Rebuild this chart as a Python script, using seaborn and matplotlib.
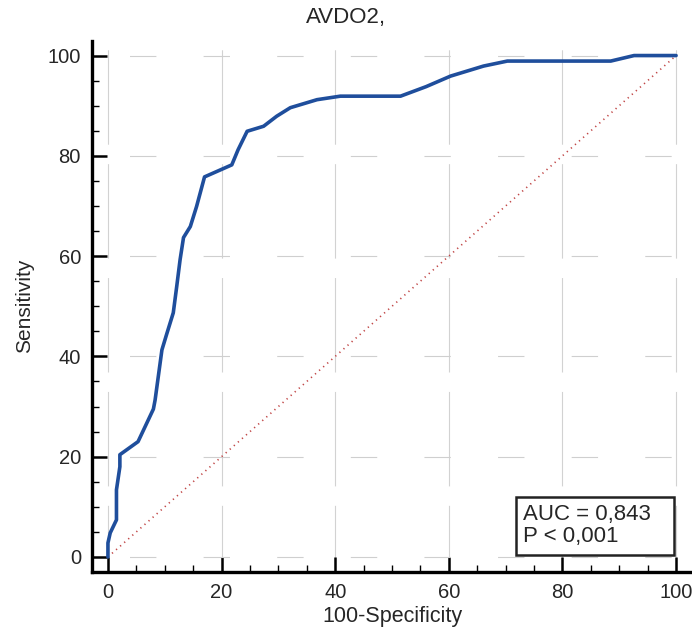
import matplotlib
matplotlib.use("Agg")
import matplotlib.pyplot as plt
import seaborn as sns
import pandas as pd
from matplotlib.ticker import MultipleLocator
from matplotlib.patches import Rectangle

# ROC curve values
fpr = [0, 0, 0.4, 1.5, 1.5, 2.1, 2.1, 5.3, 8.0, 8.3, 9.5, 10.3, 11.5, 12.1, 12.7,
       13.3, 14.5, 15.6, 17.0, 19.8, 21.8, 22.9, 24.5, 27.4, 29.7, 32.1, 36.8,
       40.9, 51.5, 56.0, 60.3, 66.1, 70.3, 88.5, 92.6, 100]
tpr = [0, 2.8, 4.8, 7.4, 13.4, 18.0, 20.4, 23.0, 29.5, 31.3, 41.3, 44.3, 48.7, 53.9, 59.3,
       63.7, 65.9, 69.9, 75.8, 77.2, 78.2, 81.2, 84.9, 85.9, 87.9, 89.6, 91.2,
       91.9, 91.9, 93.8, 95.9, 97.9, 98.9, 98.9, 100, 100]
ref_x = [0, 100]
ref_y = [0, 100]
title = "AVDO2,"
xlabel = "100-Specificity"
ylabel = "Sensitivity"
legend_text = "AUC = 0,843\nP < 0,001"
ticks = [0, 20, 40, 60, 80, 100]

sns.set_style("white")
plt.rcParams['font.family'] = ['Liberation Sans', 'DejaVu Sans']
plt.rcParams['lines.scale_dashes'] = False

fig = plt.figure(figsize=(6.92, 6.29), dpi=100)
ax = fig.add_axes([0.133, 0.0906, 0.867, 0.845])

df = pd.DataFrame({"x": fpr, "y": tpr})
sns.lineplot(data=df, x="x", y="y", sort=False, estimator=None, ax=ax,
             color="#1f4e9c", linewidth=2.6, zorder=5)
sns.lineplot(x=ref_x, y=ref_y, ax=ax, color="#c04545", linewidth=1.2,
             linestyle=(0, (0.9, 3.0)), zorder=4)

ax.set_xlim(-2.8, 102.8)
ax.set_ylim(-3, 103)
ax.set_xticks(ticks)
ax.set_yticks(ticks)
ax.xaxis.set_minor_locator(MultipleLocator(5))
ax.yaxis.set_minor_locator(MultipleLocator(5))
ax.tick_params(which='major', direction='in', length=11, width=1.8, labelsize=14.5,
               color='black', pad=8)
ax.tick_params(which='minor', direction='in', length=5, width=1.0, color='black')
ax.tick_params(axis='x', bottom=True, which='both')
ax.tick_params(axis='y', left=True, which='both')

for s in ['top', 'right']:
    ax.spines[s].set_visible(False)
for s in ['left', 'bottom']:
    ax.spines[s].set_linewidth(2.4)
    ax.spines[s].set_color('black')

# faint, broken grid as in the reference
ax.xaxis.grid(True, which='major', color='#d2d2d2', linewidth=0.8,
              linestyle=(20, (68, 14)))
ax.yaxis.grid(True, which='major', color='#cfcfcf', linewidth=0.8,
              linestyle=(26, (19, 34)))

fig.text(0.5, 1 - 18 / 629, title, fontsize=16, ha='center', va='center')
ax.set_xlabel(xlabel, fontsize=15.5, labelpad=3)
ax.set_ylabel(ylabel, fontsize=15, labelpad=10)

ax.add_patch(Rectangle((71.8, 0.4), 27.8, 11.6, facecolor='white',
                       edgecolor='#222222', linewidth=1.8, zorder=6))
ax.text(73.0, 6.3, legend_text, fontsize=16, va='center', ha='left', zorder=7,
        linespacing=1.05)

fig.savefig("out.png", dpi=100)
